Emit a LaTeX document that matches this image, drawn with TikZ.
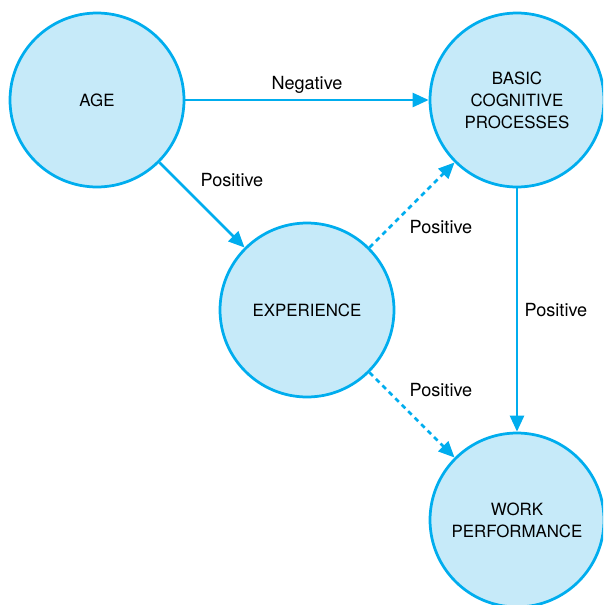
\documentclass[tikz,border=0pt]{standalone}
\usepackage{fontspec}
\setmainfont{TeX Gyre Heros}
\usepackage{xcolor}
\usetikzlibrary{arrows.meta}
\definecolor{linkblue}{RGB}{0, 173, 238}
\definecolor{bubblefill}{RGB}{198, 234, 249}

\begin{document}
\begin{tikzpicture}[x=0.02cm, y=-0.02cm,
        bubble/.style={circle, draw=linkblue, fill=bubblefill, line width=0.055cm,
            minimum size=3.48cm, inner sep=0pt, align=center,
            font=\fontsize{9.6}{12.5}\selectfont},
        link/.style={draw=linkblue, line width=0.05cm,
            -{Triangle[length=0.32cm, width=0.28cm]}},
        maybe/.style={link, dash pattern=on 2.8pt off 2.4pt},
        tag/.style={font=\fontsize{10.3}{12}\selectfont}]
                \clip (0,0) rectangle (603,605);
                \useasboundingbox (0,0) rectangle (603,605);
                \node[bubble] (age) at (97,100) {AGE};
                \node[bubble] (basic) at (517,100) {BASIC\\COGNITIVE\\PROCESSES};
                \node[bubble] (exp) at (307,310) {EXPERIENCE};
                \node[bubble] (work) at (517,520) {WORK\\PERFORMANCE};
                \draw[link] (age) -- (basic);
                \draw[link] (age) -- (exp);
                \draw[link] (basic) -- (work);
                \draw[maybe] (exp) -- (basic);
                \draw[maybe] (exp) -- (work);
                \node[tag] (negtag) at (307,85) {Negative};
                \node[tag] (agetag) at (232,180) {Positive};
                \node[tag] (uptag) at (441,227) {Positive};
                \node[tag] (downtag) at (556,310) {Positive};
                \node[tag] (worktag) at (441,390) {Positive};
            \end{tikzpicture}
\end{document}
